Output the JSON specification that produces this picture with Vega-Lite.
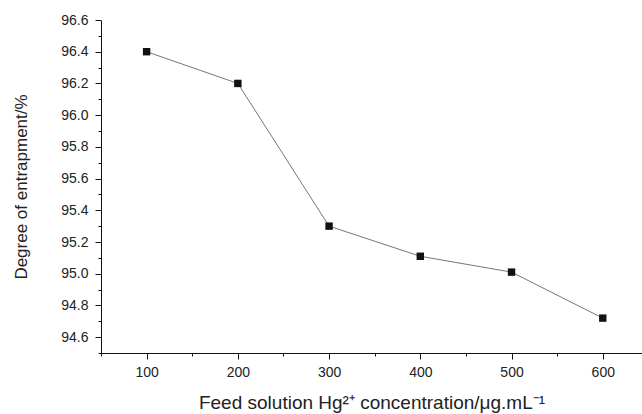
{
  "$schema": "https://vega.github.io/schema/vega-lite/v6.json",
  "autosize": "none",
  "padding": {"left": 101, "top": 20, "right": 0, "bottom": 61},
  "width": 541,
  "height": 333,
  "background": "white",
  "config": {
    "view": {"stroke": null},
    "font": "Liberation Sans",
    "axis": {
      "labelFont": "Liberation Sans",
      "titleFont": "Liberation Sans",
      "labelColor": "#222",
      "titleColor": "#222",
      "domainColor": "#111",
      "tickColor": "#111",
      "labelFontSize": 14,
      "titleFontSize": 17,
      "titleFontWeight": "normal",
      "grid": false
    }
  },
  "data": {
    "values": [
      {"conc": 100, "deg": 96.40},
      {"conc": 200, "deg": 96.20},
      {"conc": 300, "deg": 95.30},
      {"conc": 400, "deg": 95.11},
      {"conc": 500, "deg": 95.01},
      {"conc": 600, "deg": 94.72}
    ]
  },
  "encoding": {
    "x": {
      "field": "conc",
      "type": "quantitative",
      "scale": {"domain": [50, 643], "nice": false, "zero": false},
      "axis": {
        "title": "Feed solution Hg²⁺ concentration/μg.mL⁻¹",
        "titleFontSize": 19,
        "values": [50, 100, 150, 200, 250, 300, 350, 400, 450, 500, 550, 600],
        "labelExpr": "datum.value % 100 === 0 ? datum.label : ''",
        "tickSize": {"condition": {"test": "datum.value % 100 === 0", "value": 6}, "value": 3},
        "labelPadding": 6,
        "titlePadding": 14,
        "labelFlush": false
      }
    },
    "y": {
      "field": "deg",
      "type": "quantitative",
      "scale": {"domain": [94.5, 96.6], "nice": false, "zero": false},
      "axis": {
        "title": "Degree of entrapment/%",
        "values": [94.5, 94.6, 94.7, 94.8, 94.9, 95.0, 95.1, 95.2, 95.3, 95.4, 95.5, 95.6, 95.7, 95.8, 95.9, 96.0, 96.1, 96.2, 96.3, 96.4, 96.5, 96.6],
        "labelExpr": "round(datum.value * 10) % 2 === 0 ? format(datum.value, '.1f') : ''",
        "tickSize": {"condition": {"test": "round(datum.value * 10) % 2 === 0", "value": 6}, "value": 3},
        "labelPadding": 7,
        "titlePadding": 30,
        "labelFlush": false
      }
    }
  },
  "layer": [
    {"mark": {"type": "line", "color": "#666", "strokeWidth": 0.9}},
    {"mark": {"type": "square", "color": "#111", "opacity": 1, "size": 55, "filled": true}}
  ]
}
